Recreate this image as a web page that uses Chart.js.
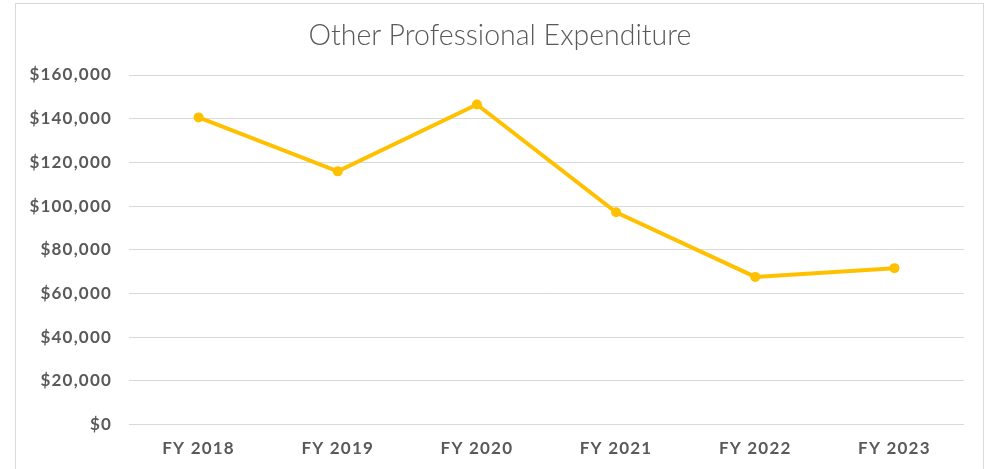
<!DOCTYPE html>
<html>
<head>
<meta charset="utf-8">
<script src="https://cdn.jsdelivr.net/npm/chart.js@4"></script>
<style>
  html, body { margin: 0; padding: 0; background: #fff; }
  #wrap { position: relative; width: 990px; height: 469px; }
  #frame { position: absolute; left: 15px; top: 3px; width: 969px; height: 480px; border: 1px solid #d9d9d9; box-sizing: border-box; }
  #title { position: absolute; left: 0; top: 17px; width: 1000px; text-align: center;
           font: 300 28.5px Lato; line-height: 34px; color: #595959; }
  canvas { position: absolute; left: 0; top: 0; }
</style>
</head>
<body>
<div id="wrap">
  <div id="frame"></div>
  <canvas id="chart" width="990" height="469"></canvas>
  <div id="title">Other Professional Expenditure</div>
</div>
<script>
const years = ["FY 2018", "FY 2019", "FY 2020", "FY 2021", "FY 2022", "FY 2023"];
const expenditure = [140600, 115900, 146500, 97200, 67600, 71600];
const yTicks = [0, 20000, 40000, 60000, 80000, 100000, 120000, 140000, 160000];

const textColor = "#595959";
const gold = "#FFC000";
const labelFont = { family: "Lato", size: 17, weight: "bold" };

// the labels in the picture are set a bit wider than Lato
const spacing = {
  id: "spacing",
  beforeDraw(chart) { chart.ctx.letterSpacing = "1.2px"; }
};

new Chart(document.getElementById("chart"), {
  type: "line",
  data: {
    labels: years,
    datasets: [{
      label: "Other Professional Expenditure",
      data: expenditure,
      borderColor: gold,
      backgroundColor: gold,
      borderWidth: 4,
      pointRadius: 5,
      pointBackgroundColor: gold,
      pointBorderWidth: 0,
      tension: 0
    }]
  },
  plugins: [spacing],
  options: {
    responsive: false,
    animation: false,
    layout: { padding: { left: 0, right: 26, top: 75, bottom: 4 } },
    plugins: {
      legend: { display: false },
      tooltip: { enabled: false },
      title: { display: false }
    },
    scales: {
      x: {
        offset: true,
        grid: { display: false },
        border: { display: false },
        ticks: { color: textColor, padding: 6, font: labelFont }
      },
      y: {
        min: 0,
        max: 160000,
        afterFit: (scale) => { scale.width = 129; },
        afterBuildTicks: (scale) => { scale.ticks = yTicks.map(v => ({ value: v })); },
        grid: { color: "#d9d9d9", lineWidth: 1, drawTicks: false },
        border: { display: false },
        ticks: {
          color: textColor,
          padding: 17,
          font: labelFont,
          callback: (v) => "$" + v.toLocaleString("en-US")
        }
      }
    }
  }
});
</script>
</body>
</html>
